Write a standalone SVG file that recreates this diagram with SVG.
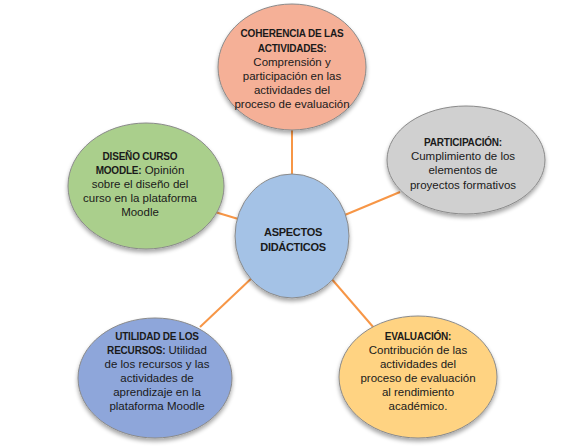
<svg xmlns="http://www.w3.org/2000/svg" width="587" height="446" viewBox="0 0 587 446">
<defs>
<filter id="sh" x="-20%" y="-20%" width="140%" height="150%">
<feGaussianBlur in="SourceAlpha" stdDeviation="2"/>
<feOffset dx="0" dy="3" result="b"/>
<feComponentTransfer><feFuncA type="linear" slope="0.35"/></feComponentTransfer>
<feMerge><feMergeNode/><feMergeNode in="SourceGraphic"/></feMerge>
</filter>
</defs>
<style>
.n{stroke:#8a8a8a;stroke-width:1;filter:url(#sh)}
.c{stroke:#F79646;stroke-width:2;fill:none}
text{font-family:"Liberation Sans",Arial,sans-serif;font-size:11.5px;fill:#1a1a1a;text-anchor:middle}
.b{font-weight:bold;font-size:10px;letter-spacing:-0.2px}
</style>
<rect width="587" height="446" fill="#ffffff"/>
<g id="connectors">
<line class="c" x1="292" y1="125" x2="292" y2="185"/>
<line class="c" x1="340" y1="217" x2="400" y2="192"/>
<line class="c" x1="205" y1="209" x2="245" y2="221"/>
<line class="c" x1="255" y1="275" x2="200" y2="327"/>
<line class="c" x1="330" y1="277" x2="374" y2="328"/>
</g>
<g id="coherencia">
<ellipse class="n" cx="292" cy="67" rx="74" ry="63" fill="#F5B097"/>
<text x="292" y="37" class="b">COHERENCIA DE LAS</text>
<text x="292" y="52" class="b">ACTIVIDADES:</text>
<text x="292" y="66">Comprensión y</text>
<text x="292" y="80">participación en las</text>
<text x="292" y="94">actividades del</text>
<text x="292" y="108">proceso de evaluación</text>
</g>
<g id="participacion">
<ellipse class="n" cx="466" cy="160" rx="79" ry="54" fill="#D0D0D0"/>
<text x="463" y="146" class="b">PARTICIPACIÓN:</text>
<text x="463" y="160">Cumplimiento de los</text>
<text x="463" y="174">elementos de</text>
<text x="463" y="189">proyectos formativos</text>
</g>
<g id="diseno">
<ellipse class="n" cx="146" cy="186" rx="78" ry="63" fill="#AACF8C"/>
<text x="140" y="160" class="b">DISEÑO CURSO</text>
<text x="140" y="174"><tspan class="b">MOODLE:</tspan> Opinión</text>
<text x="140" y="188">sobre el diseño del</text>
<text x="140" y="202">curso en la plataforma</text>
<text x="140" y="216">Moodle</text>
</g>
<g id="aspectos">
<ellipse class="n" cx="292" cy="236" rx="57" ry="62" fill="#A4C2E6"/>
<text x="293" y="236" class="b" style="font-size:11px;letter-spacing:-0.3px">ASPECTOS</text>
<text x="293" y="251" class="b" style="font-size:11px;letter-spacing:-0.3px">DIDÁCTICOS</text>
</g>
<g id="utilidad">
<ellipse class="n" cx="155" cy="378" rx="77" ry="60" fill="#8EA6DA"/>
<text x="157" y="340" class="b">UTILIDAD DE LOS</text>
<text x="157" y="354"><tspan class="b">RECURSOS:</tspan> Utilidad</text>
<text x="157" y="368">de los recursos y las</text>
<text x="157" y="382">actividades de</text>
<text x="157" y="396">aprendizaje en la</text>
<text x="157" y="410">plataforma Moodle</text>
</g>
<g id="evaluacion">
<ellipse class="n" cx="418" cy="377" rx="79" ry="61" fill="#FFD382"/>
<text x="418" y="340" class="b">EVALUACIÓN:</text>
<text x="418" y="354">Contribución de las</text>
<text x="418" y="368">actividades del</text>
<text x="418" y="382">proceso de evaluación</text>
<text x="418" y="396">al rendimiento</text>
<text x="418" y="410">académico.</text>
</g>
</svg>
